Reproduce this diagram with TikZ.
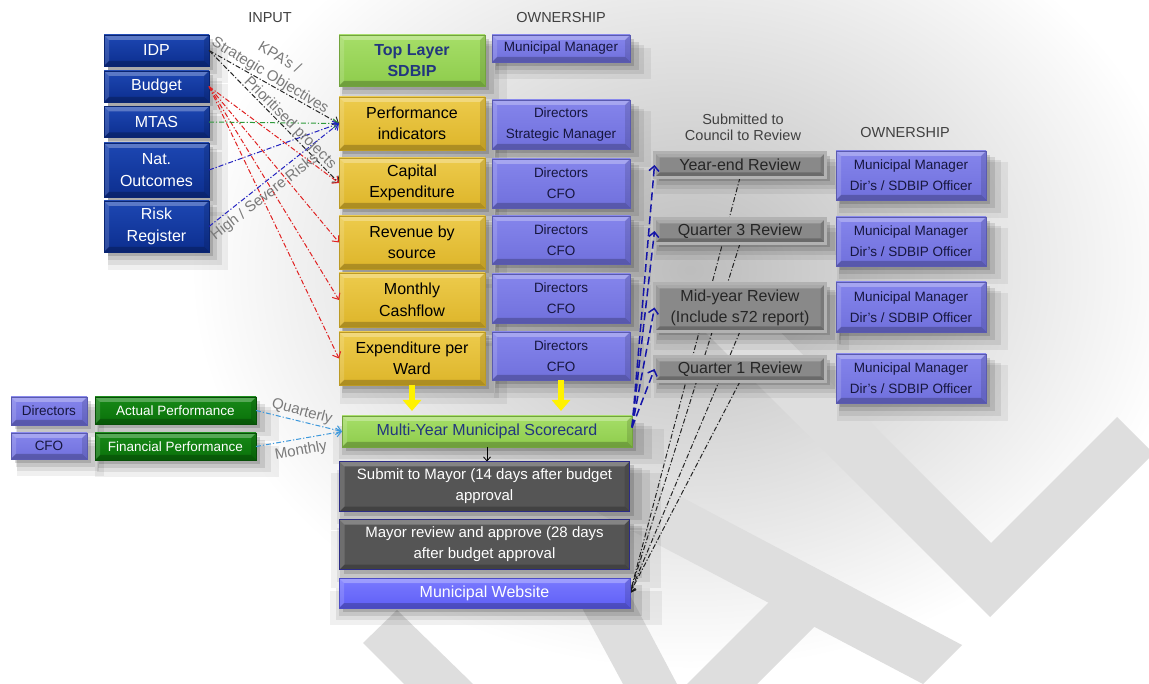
\documentclass[tikz,border=0pt]{standalone}
\usepackage{fontspec}
\setmainfont{Liberation Sans}
\usetikzlibrary{arrows.meta,shadows}
\pgfdeclarelayer{back}
\pgfsetlayers{back,main}
\definecolor{navyfill}{HTML}{0C2E8E}
\definecolor{navytop}{HTML}{1D47B3}
\definecolor{limefill}{HTML}{8ECC4C}
\definecolor{limetop}{HTML}{A6DE68}
\definecolor{goldfill}{HTML}{DDB52A}
\definecolor{goldtop}{HTML}{EDCB4C}
\definecolor{lilacfill}{HTML}{7070DC}
\definecolor{lilactop}{HTML}{8585EC}
\definecolor{reviewfill}{HTML}{898989}
\definecolor{reviewedge}{HTML}{B2B2B2}
\definecolor{slatefill}{HTML}{555555}
\definecolor{slateedge}{HTML}{2C2C86}
\definecolor{webfill}{HTML}{5F5FF6}
\definecolor{webtop}{HTML}{7A7AFF}
\definecolor{leaffill}{HTML}{0A700A}
\definecolor{leaftop}{HTML}{178A17}
\definecolor{inkblue}{HTML}{22367E}
\definecolor{ownink}{HTML}{16163E}
\definecolor{markgray}{HTML}{DEDEDE}
\definecolor{tagtext}{HTML}{7A7A7A}
\definecolor{flowred}{HTML}{E02222}
\definecolor{flowgreen}{HTML}{2E9A3A}
\definecolor{flowblue}{HTML}{2222C0}
\definecolor{tagblue}{HTML}{3C98DC}
\definecolor{dashblue}{HTML}{1414A8}
\definecolor{arrowyellow}{HTML}{FFF200}

\begin{document}
\begin{tikzpicture}[x=1pt,y=-1pt,inner sep=0pt,outer sep=0pt,
bevel/.style={path picture={
 \fill[white,opacity=.28] (path picture bounding box.north west) -- (path picture bounding box.north east) -- ([shift={(-5pt,-5pt)}]path picture bounding box.north east) -- ([shift={(5pt,-5pt)}]path picture bounding box.north west) -- cycle;
 \fill[white,opacity=.15] (path picture bounding box.north west) -- ([shift={(5pt,-5pt)}]path picture bounding box.north west) -- ([shift={(5pt,5pt)}]path picture bounding box.south west) -- (path picture bounding box.south west) -- cycle;
 \fill[black,opacity=.22] (path picture bounding box.south west) -- (path picture bounding box.south east) -- ([shift={(-5pt,5pt)}]path picture bounding box.south east) -- ([shift={(5pt,5pt)}]path picture bounding box.south west) -- cycle;
 \fill[black,opacity=.12] (path picture bounding box.north east) -- ([shift={(-5pt,-5pt)}]path picture bounding box.north east) -- ([shift={(-5pt,5pt)}]path picture bounding box.south east) -- (path picture bounding box.south east) -- cycle;}},
softshadow/.style={general shadow={fill=black,opacity=.06,shadow xshift=10pt,shadow yshift=-13pt,shadow scale=1.14},
 general shadow={fill=black,opacity=.08,shadow xshift=8pt,shadow yshift=-10pt,shadow scale=1.08},
 general shadow={fill=black,opacity=.10,shadow xshift=6pt,shadow yshift=-7pt,shadow scale=1.04},
 general shadow={fill=black,opacity=.14,shadow xshift=4pt,shadow yshift=-4pt}},
box/.style={rectangle,align=center,bevel,softshadow},
srcbox/.style={box,draw=navyfill!80!black,top color=navytop,bottom color=navyfill,text=white,font=\fontsize{16}{22}\selectfont,minimum width=105pt},
planbox/.style={box,draw=goldfill!85!black,top color=goldtop,bottom color=goldfill,font=\fontsize{16}{21.5}\selectfont,minimum width=146pt},
ownbox/.style={box,draw=lilacfill!80!black,top color=lilactop,bottom color=lilacfill,text=ownink,font=\fontsize{13.5}{21}\selectfont},
limebox/.style={box,draw=limefill!80!black,top color=limetop,bottom color=limefill,text=inkblue,font=\fontsize{16}{21}\selectfont},
reviewbox/.style={box,draw=reviewedge,line width=3pt,fill=reviewfill,text=black!85,font=\fontsize{16}{21}\selectfont,minimum width=171pt},
slatebox/.style={box,draw=slateedge,line width=1pt,fill=slatefill,text=white,font=\fontsize{15}{21}\selectfont,minimum width=290pt,minimum height=50pt},
leafbox/.style={box,draw=leaffill!70!black,top color=leaftop,bottom color=leaffill,text=white,font=\fontsize{13.5}{18}\selectfont,minimum width=161pt,minimum height=27pt},
head/.style={font=\fontsize{14.5}{16}\selectfont,align=center,text=black!75},
tag/.style={font=\fontsize{15}{17}\selectfont,text=tagtext},
inflow/.style={line width=1pt,dash pattern=on 5pt off 2pt on 1.2pt off 2pt,-{Straight Barb[length=5pt,width=9pt]}},
backflow/.style={line width=1pt,black!85,dash pattern=on 5pt off 2pt on 1.2pt off 2pt,-{Straight Barb[length=5pt,width=8pt]}},
councilflow/.style={line width=1.5pt,dashblue,dash pattern=on 8pt off 4pt,-{Straight Barb[length=5pt,width=10pt]}},
feedarrow/.style={line width=6pt,arrowyellow,shorten >=5pt,-{Triangle[width=18pt,length=11pt]}}]
\useasboundingbox (0,0) rectangle (1149,684);
\begin{pgfonlayer}{back}
\fill[white] (0,0) rectangle (1149,684);
\shade[inner color=gray!52,outer color=white] (690,270) ellipse (500pt and 400pt);
\fill[markgray] (703,330) -- (990,617) -- (1149,458) -- (1149,449) -- (1117,417) -- (991,543) -- (778,330) -- cycle;
\fill[markgray] (560,433) -- (962,645) -- (923,684) -- (560,493) -- cycle;
\fill[markgray] (687,684) -- (807,564) -- (853,588) -- (757,684) -- cycle;
\fill[markgray] (567,580) -- (622,580) -- (677,684) -- (623,684) -- cycle;
\fill[markgray] (363,643) -- (397,610) -- (473,684) -- (404,684) -- cycle;
\end{pgfonlayer}

\draw (270,18) node[head] (inputhead) {INPUT};
\draw (561,18) node[head] (ownhead) {OWNERSHIP};
\draw (743,127) node[head] (councilhead) {Submitted to\\Council to Review};
\draw (905,133) node[head] (reviewownhead) {OWNERSHIP};

\draw (156.5,50.5) node[srcbox,minimum height=31pt] (idp) {IDP};
\draw (156.5,86.5) node[srcbox,minimum height=31pt] (budget) {Budget};
\draw (156.5,122) node[srcbox,minimum height=31pt] (mtas) {MTAS};
\draw (156.5,170) node[srcbox,minimum height=54pt] (natout) {Nat.\\Outcomes};
\draw (156.5,226.5) node[srcbox,minimum height=51pt] (risk) {Risk\\Register};

\draw (412,60.5) node[limebox,font=\fontsize{16}{21}\selectfont\bfseries,minimum width=146pt,minimum height=51pt] (toplayer) {Top Layer\\SDBIP};
\draw (412,123.5) node[planbox,minimum height=53pt] (perf) {Performance\\indicators};
\draw (412,183) node[planbox,minimum height=50pt] (capex) {Capital\\Expenditure};
\draw (412,242.5) node[planbox,minimum height=53pt] (revenue) {Revenue by\\source};
\draw (412,300) node[planbox,minimum height=54pt] (cashflow) {Monthly\\Cashflow};
\draw (412,358.5) node[planbox,minimum height=53pt] (ward) {Expenditure per\\Ward};

\draw (561,48.5) node[ownbox,minimum width=138pt,minimum height=27pt] (ownmm) {Municipal Manager};
\draw (561,124.5) node[ownbox,minimum width=138pt,minimum height=49pt] (ownperf) {Directors\\Strategic Manager};
\draw (561,183.5) node[ownbox,minimum width=138pt,minimum height=49pt] (owncapex) {Directors\\CFO};
\draw (561,240) node[ownbox,minimum width=138pt,minimum height=48pt] (ownrevenue) {Directors\\CFO};
\draw (561,298.5) node[ownbox,minimum width=138pt,minimum height=49pt] (owncashflow) {Directors\\CFO};
\draw (561,356) node[ownbox,minimum width=138pt,minimum height=48pt] (ownward) {Directors\\CFO};

\draw (487,431.5) node[limebox,minimum width=290pt,minimum height=31pt] (score) {Multi-Year Municipal Scorecard};
\draw (484.5,486.5) node[slatebox] (submit) {Submit to Mayor (14 days after budget\\approval};
\draw (484.5,544.5) node[slatebox] (mayor) {Mayor review and approve (28 days\\after budget approval};
\draw (484.5,593) node[box,draw=webfill!80!black,top color=webtop,bottom color=webfill,text=white,font=\fontsize{16}{21}\selectfont,minimum width=291pt,minimum height=30pt] (web) {Municipal Website};

\draw (740,165) node[reviewbox,minimum height=25pt] (yearend) {Year-end Review};
\draw (740,231) node[reviewbox,minimum height=25pt] (q3) {Quarter 3 Review};
\draw (740,307.5) node[reviewbox,minimum height=48pt] (midyear) {Mid-year Review\\(Include s72 report)};
\draw (740,369) node[reviewbox,minimum height=25pt] (q1) {Quarter 1 Review};

\draw (911,175.5) node[ownbox,minimum width=150pt,minimum height=49pt] (ownyearend) {Municipal Manager\\Dir's / SDBIP Officer};
\draw (911,241.5) node[ownbox,minimum width=150pt,minimum height=49pt] (ownq3) {Municipal Manager\\Dir's / SDBIP Officer};
\draw (911,307) node[ownbox,minimum width=150pt,minimum height=50pt] (ownmidyear) {Municipal Manager\\Dir's / SDBIP Officer};
\draw (911,378.5) node[ownbox,minimum width=150pt,minimum height=49pt] (ownq1) {Municipal Manager\\Dir's / SDBIP Officer};

\draw (49,411) node[ownbox,minimum width=76pt,minimum height=28pt] (dirs) {Directors};
\draw (49,446) node[ownbox,minimum width=76pt,minimum height=26pt] (cfo) {CFO};
\draw (175.5,410.5) node[leafbox] (actual) {Actual Performance};
\draw (175.5,446.5) node[leafbox] (financial) {Financial Performance};

\draw[inflow,black!85] (idp.east) -- (perf.west);
\draw[inflow,black!85] (idp.east) -- (capex.west);
\draw[inflow,flowred] (budget.east) -- (capex.west);
\draw[inflow,flowred] (budget.east) -- (revenue.west);
\draw[inflow,flowred] (budget.east) -- (cashflow.west);
\draw[inflow,flowred] (budget.east) -- (ward.west);
\draw[inflow,flowgreen] (mtas.east) -- (perf.west);
\draw[inflow,flowblue] (natout.east) -- (perf.west);
\draw[inflow,flowblue] (risk.east) -- (perf.west);
\draw (280,57) node[tag,rotate=-31] (kpatag) {KPA's /};
\draw (270,76) node[tag,rotate=-31] (objtag) {Strategic Objectives};
\draw (290,123) node[tag,rotate=-45] (projtag) {Prioritised projects};
\draw (265,197) node[tag,rotate=38] (risktag) {High / Severe Risks};

\draw[feedarrow] (ward.south) -- (ward.south |- score.north);
\draw[feedarrow] (ownward.south) -- (ownward.south |- score.north);
\draw[-{Straight Barb[length=4pt,width=7pt]},line width=.8pt] (score.south) -- (score.south |- submit.north);

\draw[inflow,tagblue] (actual.east) -- (score.west);
\draw[inflow,tagblue] (financial.east) -- (score.west);
\draw (302,412) node[tag,rotate=-15] (quartertag) {Quarterly};
\draw (301,451) node[tag,rotate=10] (monthtag) {Monthly};

\draw[councilflow] ([yshift=4pt]score.east) -- (yearend.west);
\draw[councilflow] ([yshift=4pt]score.east) -- (q3.west);
\draw[councilflow] ([yshift=4pt]score.east) -- (midyear.west);
\draw[councilflow] ([yshift=4pt]score.east) -- (q1.west);

\begin{pgfonlayer}{back}
\draw[backflow] (yearend.south) -- (web.east);
\draw[backflow] (q3.south) -- (web.east);
\draw[backflow] (midyear.south) -- (web.east);
\draw[backflow] (q1.south) -- (web.east);
\end{pgfonlayer}
\end{tikzpicture}
\end{document}
